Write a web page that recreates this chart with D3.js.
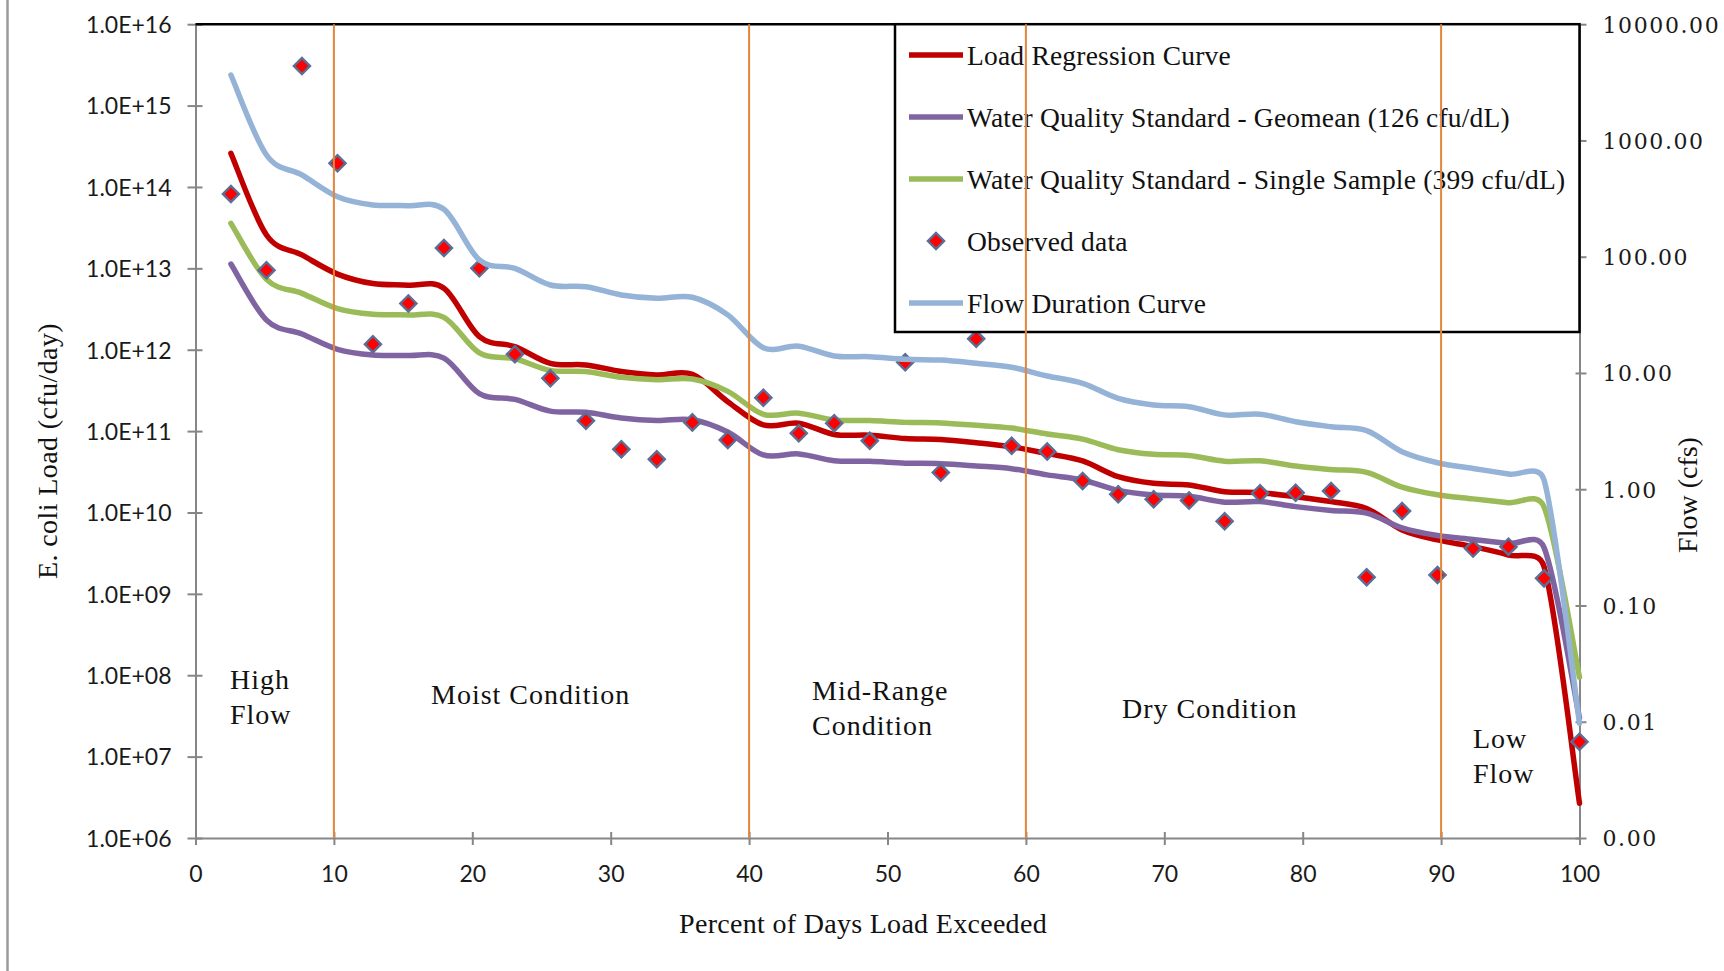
<!DOCTYPE html>
<html><head><meta charset="utf-8">
<script src="https://cdn.jsdelivr.net/npm/d3@7"></script>
<style>html,body{margin:0;padding:0;background:#fff;} svg{display:block}</style>
</head><body>
<svg id="chart" width="1724" height="971"></svg>
<script>
// ---------------- data ----------------
const percentExceeded = [2.56, 5.13, 7.69, 10.26, 12.82, 15.38, 17.95, 20.51, 23.08, 25.64, 28.21, 30.77, 33.33, 35.90, 38.46, 41.03, 43.59, 46.15, 48.72, 51.28, 53.85, 56.41, 58.97, 61.54, 64.10, 66.67, 69.23, 71.79, 74.36, 76.92, 79.49, 82.05, 84.62, 87.18, 89.74, 92.31, 94.87, 97.44, 100];
const loadRegression = [2.59e14, 2.57e13, 1.46e13, 8.5e12, 6.5e12, 6.2e12, 5.7e12, 1.45e12, 1.09e12, 6.8e11, 6.5e11, 5.4e11, 4.9e11, 5.0e11, 2.3e11, 1.19e11, 1.25e11, 9.1e10, 8.9e10, 8.1e10, 7.9e10, 7.2e10, 6.4e10, 5.3e10, 4.3e10, 2.75e10, 2.28e10, 2.18e10, 1.8e10, 1.75e10, 1.56e10, 1.36e10, 1.12e10, 6.1e9, 4.6e9, 3.8e9, 3.0e9, 2.16e9, 2.67e6];
const geomeanStandard = [1.13e13, 2.31e12, 1.56e12, 1.01e12, 8.6e11, 8.48e11, 7.89e11, 2.89e11, 2.45e11, 1.76e11, 1.70e11, 1.45e11, 1.35e11, 1.38e11, 9.74e10, 5.09e10, 5.24e10, 4.32e10, 4.25e10, 4.04e10, 3.98e10, 3.73e10, 3.45e10, 2.90e10, 2.51e10, 1.87e10, 1.64e10, 1.58e10, 1.34e10, 1.36e10, 1.18e10, 1.06e10, 9.83e9, 6.47e9, 5.21e9, 4.66e9, 4.16e9, 3.70e9, 2.99e7];
const singleSampleStandard = [3.57e13, 7.32e12, 4.93e12, 3.20e12, 2.72e12, 2.68e12, 2.50e12, 9.16e11, 7.75e11, 5.57e11, 5.39e11, 4.58e11, 4.29e11, 4.37e11, 3.08e11, 1.61e11, 1.66e11, 1.37e11, 1.35e11, 1.28e11, 1.26e11, 1.18e11, 1.09e11, 9.20e10, 7.96e10, 5.91e10, 5.18e10, 5.01e10, 4.26e10, 4.31e10, 3.72e10, 3.37e10, 3.11e10, 2.05e10, 1.65e10, 1.47e10, 1.32e10, 1.17e10, 9.47e7];
const observedLoad = [8.2e13, 9.5e12, 3.06e15, 1.95e14, 1.17e12, 3.7e12, 1.78e13, 1.0e13, 8.8e11, 4.45e11, 1.34e11, 6.0e10, 4.5e10, 1.28e11, 7.8e10, 2.57e11, 9.4e10, 1.25e11, 7.6e10, 7.0e11, 3.1e10, 1.36e12, 6.6e10, 5.6e10, 2.44e10, 1.67e10, 1.45e10, 1.40e10, 7.8e9, 1.72e10, 1.75e10, 1.84e10, 1.6e9, 1.04e10, 1.7e9, 3.6e9, 3.8e9, 1.55e9, 1.52e7];
const flowCfs = [3656, 750, 505, 328, 279, 275, 256, 93.8, 79.4, 57.1, 55.2, 46.9, 43.9, 44.8, 31.6, 16.5, 17.0, 14.0, 13.8, 13.1, 12.9, 12.1, 11.2, 9.42, 8.15, 6.05, 5.31, 5.13, 4.36, 4.42, 3.81, 3.45, 3.19, 2.10, 1.69, 1.51, 1.35, 1.20, 0.0097];

const xTickValues = [0, 10, 20, 30, 40, 50, 60, 70, 80, 90, 100];
const leftTickValues = [1e6, 1e7, 1e8, 1e9, 1e10, 1e11, 1e12, 1e13, 1e14, 1e15, 1e16];
const leftTickLabels = ["1.0E+06", "1.0E+07", "1.0E+08", "1.0E+09", "1.0E+10", "1.0E+11", "1.0E+12", "1.0E+13", "1.0E+14", "1.0E+15", "1.0E+16"];
const rightTickValues = [0.001, 0.01, 0.1, 1, 10, 100, 1000, 10000];
const rightTickLabels = ["0.00", "0.01", "0.10", "1.00", "10.00", "100.00", "1000.00", "10000.00"];
const flowRegimeBoundaries = [10, 40, 60, 90];
const legendLabels = ["Load Regression Curve", "Water Quality Standard - Geomean (126 cfu/dL)", "Water Quality Standard - Single Sample (399 cfu/dL)", "Observed data", "Flow Duration Curve"];
const regimeLabels = [["High", "Flow"], ["Moist Condition"], ["Mid-Range", "Condition"], ["Dry Condition"], ["Low", "Flow"]];

// ---------------- layout ----------------
const W = 1724, H = 971;
const P = {left: 195.5, right: 1579.5, top: 24.2, bottom: 838};
const serif = "'Liberation Serif', 'Times New Roman', serif";
const sans = "Lato, 'Open Sans', sans-serif";
const C = {red: "#C00000", purple: "#8064A2", green: "#9BBB59", blue: "#95B3D7", axis: "#868686", orange: "#E3863A"};

const svg = d3.select("#chart");
svg.append("rect").attr("width", W).attr("height", H).attr("fill", "#fff");
svg.append("line").attr("x1", 7.5).attr("x2", 7.5).attr("y1", 0).attr("y2", H)
  .attr("stroke", "#9a9a9a").attr("stroke-width", 2.5);

const x = d3.scaleLinear().domain([0, 100]).range([P.left, P.right]);
const yL = d3.scaleLog().domain([1e6, 1e16]).range([P.bottom, P.top]);
const yR = d3.scaleLog().domain([0.001, 10000]).range([P.bottom, P.top]);

// ---------------- axes ----------------
function styleAxis(g) {
  g.select(".domain").attr("stroke", C.axis).attr("stroke-width", 2);
  g.selectAll(".tick line").attr("stroke", C.axis).attr("stroke-width", 2);
  g.selectAll(".tick text").attr("fill", "#1a1a1a");
}
const gL = svg.append("g").attr("transform", `translate(${P.left},0)`)
  .call(d3.axisLeft(yL).tickValues(leftTickValues).tickFormat((d, i) => leftTickLabels[i]).tickSize(8).tickSizeOuter(0).tickPadding(16));
styleAxis(gL);
gL.selectAll(".tick line").attr("x1", 7).attr("x2", -8);
gL.selectAll(".tick text").attr("font-family", sans).attr("font-size", 23).attr("dy", "0.36em");

const gB = svg.append("g").attr("transform", `translate(0,${P.bottom})`)
  .call(d3.axisBottom(x).tickValues(xTickValues).tickFormat(d3.format("d")).tickSize(7).tickSizeOuter(0).tickPadding(21));
styleAxis(gB);
gB.selectAll(".tick line").attr("y1", -6).attr("y2", 7);
gB.selectAll(".tick text").attr("font-family", sans).attr("font-size", 23);

const gR = svg.append("g").attr("transform", `translate(${P.right},0)`)
  .call(d3.axisRight(yR).tickValues(rightTickValues).tickFormat((d, i) => rightTickLabels[i]).tickSize(7).tickSizeOuter(0).tickPadding(16));
styleAxis(gR);
gR.selectAll(".tick line").attr("x1", -4).attr("x2", 7);
gR.selectAll(".tick text").attr("font-family", "'DejaVu Serif', serif").attr("font-size", 22)
  .attr("letter-spacing", 1.6).attr("dy", "0.36em");

svg.append("line").attr("x1", P.left).attr("x2", P.right).attr("y1", P.top).attr("y2", P.top)
  .attr("stroke", "#000").attr("stroke-width", 2.5);

// ---------------- series ----------------
// spreadsheet-style smoothed line: Bezier control arms of 1/6 of the neighbour chord,
// capped at half of the current segment length
function smoothCurve(context) {
  let pts = [];
  return {
    areaStart() {}, areaEnd() {},
    lineStart() { pts = []; },
    point(px, py) { pts.push([+px, +py]); },
    lineEnd() {
      const n = pts.length;
      if (!n) return;
      context.moveTo(pts[0][0], pts[0][1]);
      const dist = (a, b) => Math.hypot(a[0] - b[0], a[1] - b[1]);
      for (let i = 0; i < n - 1; i++) {
        const p0 = pts[Math.max(i - 1, 0)], p1 = pts[i], p2 = pts[i + 1], p3 = pts[Math.min(i + 2, n - 1)];
        const d12 = dist(p1, p2), d02 = dist(p0, p2), d13 = dist(p1, p3);
        let f0 = 1 / 6, f1 = 1 / 6;
        if (d02 / 6 >= d12 / 2) f0 = d02 > 0 ? d12 / (2 * d02) : 0;
        if (d13 / 6 >= d12 / 2) f1 = d13 > 0 ? d12 / (2 * d13) : 0;
        context.bezierCurveTo(
          p1[0] + f0 * (p2[0] - p0[0]), p1[1] + f0 * (p2[1] - p0[1]),
          p2[0] - f1 * (p3[0] - p1[0]), p2[1] - f1 * (p3[1] - p1[1]),
          p2[0], p2[1]);
      }
    }
  };
}
function drawLine(values, scale, color) {
  const line = d3.line().x((d, i) => x(percentExceeded[i])).y(d => scale(d)).curve(smoothCurve);
  svg.append("path").datum(values).attr("d", line).attr("fill", "none")
    .attr("stroke", color).attr("stroke-width", 5.5).attr("stroke-linejoin", "round").attr("stroke-linecap", "round");
}
drawLine(loadRegression, yL, C.red);
drawLine(geomeanStandard, yL, C.purple);
drawLine(singleSampleStandard, yL, C.green);

const diamond = d3.symbol().type(d3.symbolSquare).size(130);
svg.append("g").selectAll("path").data(observedLoad).join("path")
  .attr("d", diamond)
  .attr("transform", (d, i) => `translate(${x(percentExceeded[i])},${yL(d)}) rotate(45)`)
  .attr("fill", "#FF0000").attr("stroke", "#5A6E96").attr("stroke-width", 2.4);

drawLine(flowCfs, yR, C.blue);

// ---------------- legend ----------------
const lg = svg.append("g");
lg.append("rect").attr("x", 895).attr("y", P.top).attr("width", P.right - 895).attr("height", 332 - P.top)
  .attr("fill", "#fff").attr("stroke", "#000").attr("stroke-width", 2.5);
const legendColors = [C.red, C.purple, C.green, null, C.blue];
legendLabels.forEach((lab, i) => {
  const yy = 55 + i * 62;
  if (legendColors[i]) {
    lg.append("line").attr("x1", 909).attr("x2", 963).attr("y1", yy).attr("y2", yy)
      .attr("stroke", legendColors[i]).attr("stroke-width", 5.5);
  } else {
    lg.append("path").attr("d", diamond).attr("transform", `translate(936,${yy}) rotate(45)`)
      .attr("fill", "#FF0000").attr("stroke", "#5A6E96").attr("stroke-width", 2.4);
  }
  lg.append("text").attr("x", 967).attr("y", yy + 10).text(lab)
    .attr("font-family", serif).attr("font-size", 27.5).attr("letter-spacing", 0.2).attr("fill", "#111");
});

// ---------------- regime labels ----------------
const regimePos = [[230, 689], [431, 704], [812, 700], [1122, 718], [1473, 748]];
regimeLabels.forEach((lines, i) => {
  const t = svg.append("text").attr("font-family", serif).attr("font-size", 28)
    .attr("letter-spacing", 1).attr("fill", "#111");
  lines.forEach((s, j) => {
    t.append("tspan").attr("x", regimePos[i][0]).attr("y", regimePos[i][1] + j * 34.5).text(s);
  });
});

// ---------------- axis titles ----------------
svg.append("text").attr("transform", "translate(57,451) rotate(-90)").attr("text-anchor", "middle")
  .attr("font-family", serif).attr("font-size", 28).attr("letter-spacing", 0.4).attr("fill", "#111")
  .text("E. coli Load (cfu/day)");
svg.append("text").attr("transform", "translate(1697,495) rotate(-90)").attr("text-anchor", "middle")
  .attr("font-family", serif).attr("font-size", 28).attr("fill", "#111")
  .text("Flow (cfs)");
svg.append("text").attr("x", 863).attr("y", 933).attr("text-anchor", "middle")
  .attr("font-family", serif).attr("font-size", 28).attr("letter-spacing", 0.3).attr("fill", "#111")
  .text("Percent of Days Load Exceeded");

// ---------------- flow regime boundaries ----------------
svg.append("g").selectAll("line").data(flowRegimeBoundaries).join("line")
  .attr("x1", d => x(d)).attr("x2", d => x(d)).attr("y1", P.top).attr("y2", P.bottom)
  .attr("stroke", C.orange).attr("stroke-width", 2);
</script></body></html>
